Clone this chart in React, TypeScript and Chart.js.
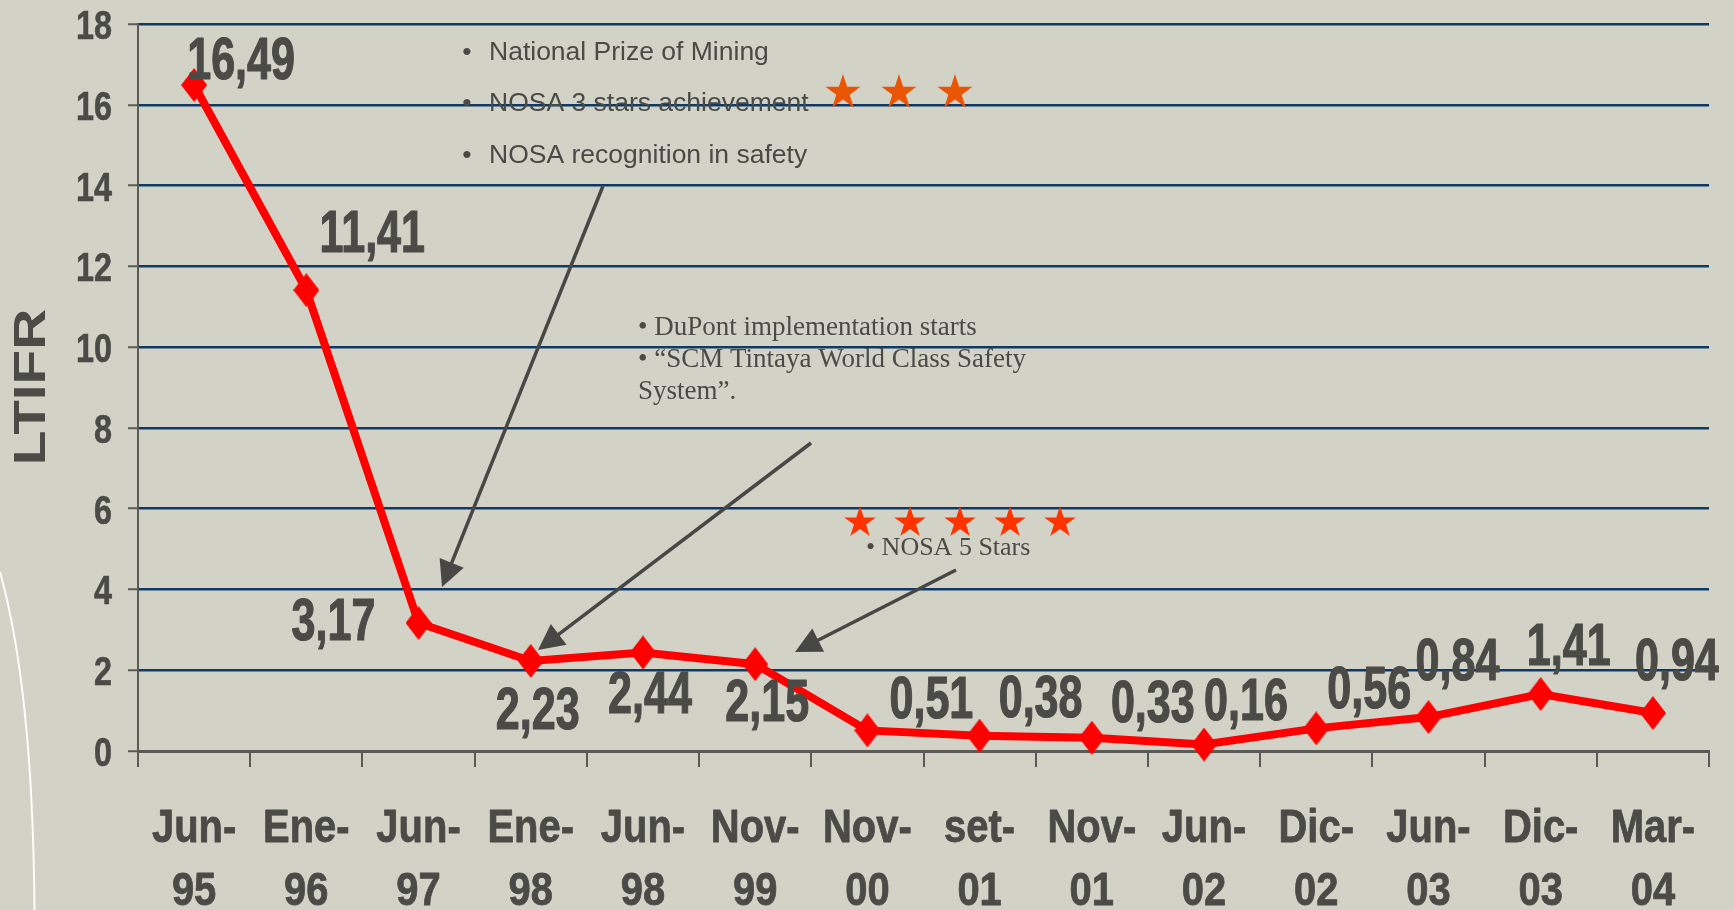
import React, { useEffect, useRef } from 'react';
import { Chart, registerables } from 'chart.js';

Chart.register(...registerables);

// ---------- data ----------
const categories = ['Jun-95', 'Ene-96', 'Jun-97', 'Ene-98', 'Jun-98', 'Nov-99', 'Nov-00', 'set-01', 'Nov-01', 'Jun-02', 'Dic-02', 'Jun-03', 'Dic-03', 'Mar-04'];
const ltifr = [16.49, 11.41, 3.17, 2.23, 2.44, 2.15, 0.51, 0.38, 0.33, 0.16, 0.56, 0.84, 1.41, 0.94];
const yMin = 0;
const yMax = 18;
const yStep = 2;
const axisTitle = 'LTIFR';
const topNotes = ['National Prize of Mining', 'NOSA 3 stars achievement', 'NOSA recognition in safety'];
const dupontNotes = ['\u2022 DuPont implementation starts', '\u2022 \u201CSCM Tintaya World Class Safety', 'System\u201D.'];
const nosa5Note = '\u2022 NOSA 5 Stars';

// ---------- styling / placement ----------
const BG = '#d2d2c6';
const TEXT = '#4a4b47';
const GRID = '#0d3a69';
const AXIS = '#5a5a57';
const ARROW = '#474745';
const LINE_RED = '#ff0000';
// offsets of each value label from its point (px): [dx of centre, dy of baseline]
const labelOffsets = [[47, -6], [66, -38], [-85, 17], [7, 68], [7, 61], [12, 57], [64, -12], [61, -19], [61, -16], [42, -25], [53, -20], [29, -37], [28, -29], [24, -33]];

const SANS = '"Liberation Sans", Arial, sans-serif';
const SERIF = '"Liberation Serif", "Times New Roman", serif';

function squishText(ctx: CanvasRenderingContext2D, text: string, x: number, y: number, font: string, sx: number, align: CanvasTextAlign, heavy = 0) {
  ctx.save();
  ctx.translate(x, y);
  ctx.scale(sx, 1);
  ctx.font = font;
  ctx.textAlign = align;
  ctx.textBaseline = 'alphabetic';
  ctx.fillStyle = TEXT;
  ctx.fillText(text, 0, 0);
  if (heavy > 0) {
    ctx.strokeStyle = TEXT;
    ctx.lineWidth = heavy;
    ctx.lineJoin = 'round';
    ctx.strokeText(text, 0, 0);
  }
  ctx.restore();
}

function star(ctx: CanvasRenderingContext2D, cx: number, cy: number, R: number, color: string) {
  const r = R * 0.382;
  ctx.beginPath();
  for (let k = 0; k < 10; k++) {
    const rad = k % 2 === 0 ? R : r;
    const a = -Math.PI / 2 + (k * Math.PI) / 5;
    const px = cx + rad * Math.cos(a);
    const py = cy + rad * Math.sin(a);
    if (k === 0) ctx.moveTo(px, py); else ctx.lineTo(px, py);
  }
  ctx.closePath();
  ctx.fillStyle = color;
  ctx.fill();
}

function arrow(ctx: CanvasRenderingContext2D, x1: number, y1: number, x2: number, y2: number) {
  const dx = x2 - x1, dy = y2 - y1;
  const len = Math.hypot(dx, dy);
  const ux = dx / len, uy = dy / len;
  const L = 26, W = 13;
  const bx = x2 - ux * L, by = y2 - uy * L;
  ctx.save();
  ctx.strokeStyle = ARROW;
  ctx.lineWidth = 3.5;
  ctx.beginPath();
  ctx.moveTo(x1, y1);
  ctx.lineTo(bx + ux * 3, by + uy * 3);
  ctx.stroke();
  ctx.beginPath();
  ctx.moveTo(x2, y2);
  ctx.lineTo(bx - uy * W, by + ux * W);
  ctx.lineTo(bx + uy * W, by - ux * W);
  ctx.closePath();
  ctx.fillStyle = ARROW;
  ctx.fill();
  ctx.restore();
}

const decorPlugin = {
  id: 'decor',
  beforeDraw(chart: any) {
    const ctx = chart.ctx as CanvasRenderingContext2D;
    ctx.save();
    ctx.fillStyle = BG;
    ctx.fillRect(0, 0, chart.width, chart.height);
    ctx.strokeStyle = 'rgba(255,255,255,0.95)';
    ctx.lineWidth = 2;
    ctx.beginPath();
    ctx.moveTo(0, 572);
    ctx.quadraticCurveTo(33, 690, 34.5, 912);
    ctx.stroke();
    ctx.restore();
  },
  afterDraw(chart: any) {
    const ctx = chart.ctx as CanvasRenderingContext2D;
    const xs = chart.scales.x;
    const ys = chart.scales.y;

    // y tick labels
    ys.ticks.forEach((t: any) => {
      const py = ys.getPixelForValue(t.value);
      squishText(ctx, String(t.value), 112, py + 15, `bold 41px ${SANS}`, 0.79, 'right', 0.6);
    });

    // x tick labels (two lines)
    categories.forEach((c, i) => {
      const px = xs.getPixelForTick(i);
      const cut = c.indexOf('-') + 1;
      squishText(ctx, c.slice(0, cut), px, 842, `bold 47px ${SANS}`, 0.85, 'center', 0.8);
      squishText(ctx, c.slice(cut), px, 905, `bold 47px ${SANS}`, 0.85, 'center', 0.8);
    });

    // axis title
    ctx.save();
    ctx.translate(45, 387);
    ctx.rotate(-Math.PI / 2);
    ctx.scale(1.29, 1);
    ctx.font = `bold 44px ${SANS}`;
    ctx.textAlign = 'center';
    ctx.textBaseline = 'alphabetic';
    ctx.fillStyle = TEXT;
    ctx.fillText(axisTitle, 0, 0);
    ctx.restore();

    // annotations: top bullet list
    ctx.save();
    ctx.fillStyle = TEXT;
    ctx.font = `26.5px ${SANS}`;
    ctx.textBaseline = 'alphabetic';
    topNotes.forEach((t, k) => {
      const by = 60 + k * 51.3;
      ctx.textAlign = 'center';
      ctx.fillText('\u2022', 467, by);
      ctx.textAlign = 'left';
      ctx.fillText(t, 489, by);
    });
    // DuPont notes
    ctx.font = `27px ${SERIF}`;
    ctx.textAlign = 'left';
    dupontNotes.forEach((t, k) => {
      ctx.fillText(t, 638, 335 + k * 32);
    });
    ctx.font = `26px ${SERIF}`;
    ctx.fillText(nosa5Note, 866, 555);
    ctx.restore();

    // stars
    [843, 899, 955].forEach((sx) => star(ctx, sx, 92.5, 18.4, '#ea5504'));
    [860, 910, 960, 1010, 1060].forEach((sx) => star(ctx, sx, 522.6, 16.6, '#ff3300'));

    // arrows
    arrow(ctx, 603, 186, 442, 587);
    arrow(ctx, 811, 443, 538, 650);
    arrow(ctx, 956, 570, 795, 652);

    // value labels
    const meta = chart.getDatasetMeta(0);
    meta.data.forEach((pt: any, i: number) => {
      const v = ltifr[i];
      const [dx, dy] = labelOffsets[i];
      squishText(ctx, v.toFixed(2).replace('.', ','), pt.x + dx, pt.y + dy, `bold 59px ${SANS}`, 0.73, 'center', 1.2);
    });
  },
};

export default function App() {
  const ref = useRef<HTMLCanvasElement>(null);

  useEffect(() => {
    document.body.style.margin = '0';
    const diamond = document.createElement('canvas');
    diamond.width = 26;
    diamond.height = 34;
    const d = diamond.getContext('2d')!;
    d.fillStyle = LINE_RED;
    d.beginPath();
    d.moveTo(13, 0);
    d.lineTo(26, 17);
    d.lineTo(13, 34);
    d.lineTo(0, 17);
    d.closePath();
    d.fill();

    const chart = new Chart(ref.current!, {
      type: 'line',
      data: {
        labels: categories,
        datasets: [
          {
            label: axisTitle,
            data: ltifr,
            borderColor: LINE_RED,
            backgroundColor: LINE_RED,
            borderWidth: 8,
            tension: 0,
            pointStyle: diamond as any,
            pointRadius: 13,
            clip: false as any,
          },
        ],
      },
      options: {
        responsive: false,
        devicePixelRatio: 1,
        animation: false,
        layout: { padding: { left: 0, right: 25, top: 24, bottom: 0 } },
        plugins: {
          legend: { display: false },
          tooltip: { enabled: false },
        },
        scales: {
          x: {
            type: 'category',
            offset: true,
            afterFit: (s: any) => { s.height = 159; },
            ticks: { display: false },
            grid: {
              display: true,
              offset: true,
              drawOnChartArea: false,
              drawTicks: true,
              tickLength: 16,
              tickWidth: 2,
              tickColor: AXIS,
              color: AXIS,
              lineWidth: 2,
            },
            border: { display: true, color: AXIS, width: 3 },
          },
          y: {
            min: yMin,
            max: yMax,
            afterFit: (s: any) => { s.width = 138; },
            ticks: { display: false, stepSize: yStep },
            grid: {
              color: GRID,
              lineWidth: 2.5,
              drawTicks: true,
              tickLength: 10,
              tickColor: AXIS,
              tickWidth: 2,
            },
            border: { display: true, color: AXIS, width: 2 },
          },
        },
      },
      plugins: [decorPlugin],
    });
    return () => chart.destroy();
  }, []);

  return (
    <div style={{ width: 1734, height: 910, background: BG }}>
      <canvas ref={ref} width={1734} height={910} style={{ display: 'block', width: 1734, height: 910 }} />
    </div>
  );
}
